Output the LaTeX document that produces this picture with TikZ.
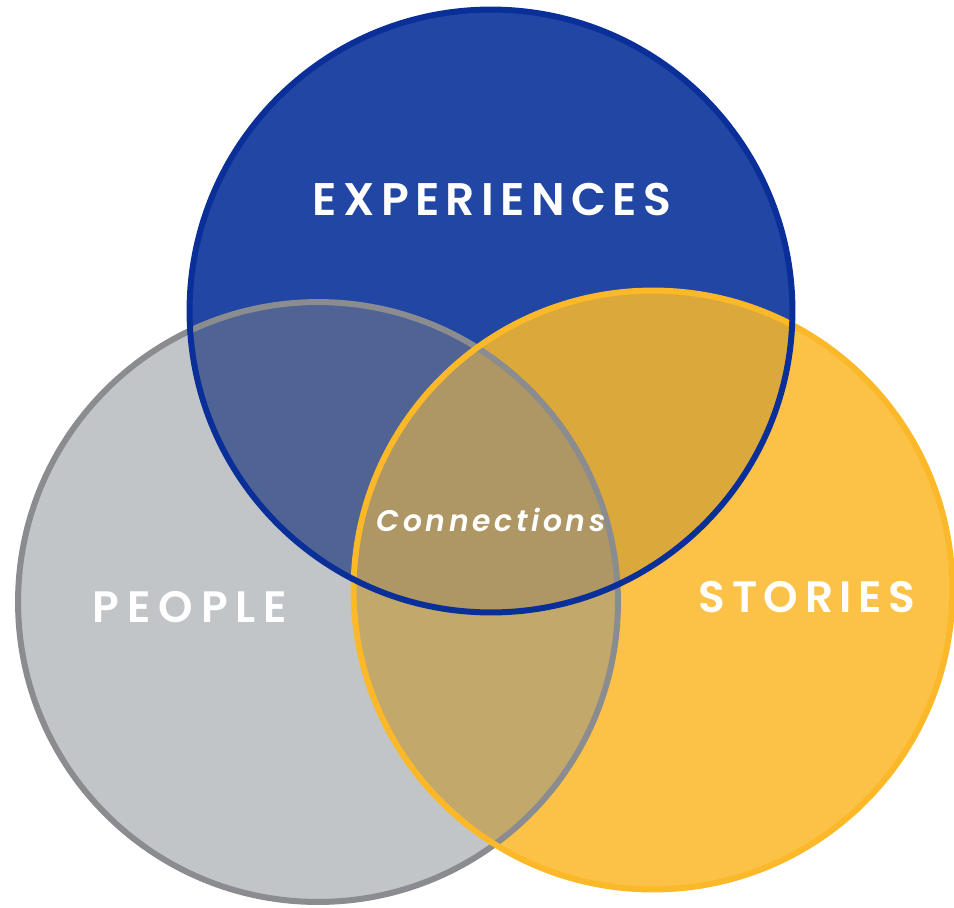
\documentclass[tikz,border=0pt]{standalone}
\usepackage{fontspec}
\newfontfamily\venncaps{Poppins SemiBold}
\newfontfamily\vennital{Poppins SemiBold Italic}
\definecolor{expblue}{HTML}{2146A3}
\definecolor{expline}{HTML}{0B2F99}
\definecolor{peoplegray}{HTML}{C2C5C8}
\definecolor{peopleline}{HTML}{8A8C8F}
\definecolor{storyyellow}{HTML}{FCC247}
\definecolor{storyline}{HTML}{FBB829}
\definecolor{bluegray}{HTML}{4F6494}
\definecolor{blueyellow}{HTML}{DBA83C}
\definecolor{grayyellow}{HTML}{C2A96B}
\definecolor{centre}{HTML}{AE9764}
\begin{document}
\begin{tikzpicture}
    [
        x=0.02cm, y=-0.02cm,
        ring/.style={line width=0.12cm},
        title/.style={text=white, inner sep=0pt, anchor=base},
    ]
    \useasboundingbox (0,0) rectangle (954,907);

    % centres
    \coordinate (E) at (491,311);
    \coordinate (P) at (318,602);
    \coordinate (S) at (653,590);
    \def\rE{6.03cm}
    \def\rP{6.0cm}
    \def\rS{5.99cm}

    % fills
    \fill[peoplegray]  (P) circle[radius=\rP];
    \fill[storyyellow] (S) circle[radius=\rS];
    \fill[expblue]     (E) circle[radius=\rE];
    \begin{scope}
        \clip (E) circle[radius=\rE];
        \fill[bluegray]   (P) circle[radius=\rP];
        \fill[blueyellow] (S) circle[radius=\rS];
    \end{scope}
    \begin{scope}
        \clip (P) circle[radius=\rP];
        \fill[grayyellow] (S) circle[radius=\rS];
        \clip (E) circle[radius=\rE];
        \fill[centre]     (S) circle[radius=\rS];
    \end{scope}

    % rings
    \draw[ring, peopleline]  (P) circle[radius=\rP];
    \draw[ring, storyline]   (S) circle[radius=\rS];
    \draw[ring, expline]     (E) circle[radius=\rE];

    % labels
    \node[title, font=\venncaps\addfontfeature{LetterSpace=14}\fontsize{26}{30}\selectfont]
        (experiences) at (492,215) {EXPERIENCES};
    \node[title, font=\venncaps\addfontfeature{LetterSpace=18}\fontsize{25}{30}\selectfont]
        (people)  at (190,622) {PEOPLE};
    \node[title, font=\venncaps\addfontfeature{LetterSpace=15}\fontsize{25}{30}\selectfont]
        (stories) at (807,612) {STORIES};
    \node[title, font=\vennital\addfontfeature{LetterSpace=12}\fontsize{17}{20}\selectfont]
        (connections) at (491,531) {Connections};

\end{tikzpicture}
\end{document}
